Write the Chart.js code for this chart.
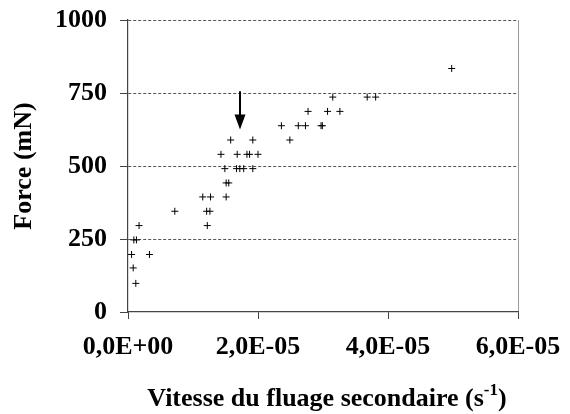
<!DOCTYPE html>
<html>
<head>
<meta charset="utf-8">
<script src="https://cdn.jsdelivr.net/npm/chart.js@4/dist/chart.umd.min.js"></script>
<style>
  html, body { margin: 0; padding: 0; background: #fff; }
  #wrap { width: 570px; height: 414px; position: relative; }
</style>
</head>
<body>
<div id="wrap"><canvas id="c"></canvas></div>
<script>
// Secondary creep rate (s^-1) and applied force (mN) for each test
const creepRate = [
  1.2e-6, 0.8e-6, 0.55e-6, 3.3e-6, 0.9e-6, 1.3e-6, 1.7e-6, 12.2e-6,
  7.2e-6, 12.1e-6, 12.6e-6, 11.5e-6, 12.7e-6, 15.1e-6, 15.1e-6, 15.5e-6,
  14.9e-6, 16.7e-6, 17.2e-6, 17.8e-6, 19.2e-6, 14.3e-6, 16.8e-6, 18.3e-6,
  18.7e-6, 20.0e-6, 15.8e-6, 19.2e-6, 24.9e-6, 23.6e-6, 26.2e-6, 27.3e-6,
  29.7e-6, 29.9e-6, 27.7e-6, 30.7e-6, 32.6e-6, 31.5e-6, 36.8e-6, 38.1e-6,
  49.8e-6
];
const force = [
  98, 151, 197, 197, 247, 247, 296, 296,
  345, 345, 345, 394, 394, 394, 442, 442,
  491, 491, 491, 491, 491, 540, 540, 540,
  540, 540, 589, 589, 589, 638, 638, 638,
  638, 638, 687, 687, 687, 736, 736, 736,
  834
];

// Tick values of both axes
const xTicks = [0, 2e-5, 4e-5, 6e-5];
const yTicks = [0, 250, 500, 750, 1000];

// Arrow pointing at the transition point
const arrowRate = 1.72e-5;
const arrowFrom = 756;
const arrowTo = 625;

const FONT = "'Liberation Serif', 'Times New Roman', serif";

function sciLabel(v) {
  const [m, e] = Number(v).toExponential(1).split('e');
  const n = parseInt(e, 10);
  const sign = n < 0 ? '-' : '+';
  return m.replace('.', ',') + 'E' + sign + String(Math.abs(n)).padStart(2, '0');
}

const points = creepRate.map((x, i) => ({ x: x, y: force[i] }));

// Arrow and x-axis title (with superscript exponent)
const extras = {
  id: 'extras',
  afterDatasetsDraw(chart) {
    const { ctx, scales } = chart;
    const xs = scales.x, ys = scales.y;
    const ax = Math.round(xs.getPixelForValue(arrowRate));
    const y0 = ys.getPixelForValue(arrowFrom);
    const y1 = ys.getPixelForValue(arrowTo);
    ctx.save();
    ctx.strokeStyle = '#000';
    ctx.fillStyle = '#000';
    ctx.lineWidth = 2;
    ctx.beginPath();
    ctx.moveTo(ax, y0);
    ctx.lineTo(ax, y1 - 12);
    ctx.stroke();
    ctx.beginPath();
    ctx.moveTo(ax - 5.5, y1 - 15);
    ctx.lineTo(ax + 5.5, y1 - 15);
    ctx.lineTo(ax, y1);
    ctx.closePath();
    ctx.fill();
    ctx.restore();
  },
  afterDraw(chart) {
    const { ctx, chartArea } = chart;
    const main = 'Vitesse du fluage secondaire (s';
    const sup = '-1';
    const tail = ')';
    ctx.save();
    ctx.fillStyle = '#000';
    ctx.textBaseline = 'alphabetic';
    ctx.textAlign = 'left';
    const big = 'bold 26px ' + FONT;
    const small = 'bold 17px ' + FONT;
    ctx.font = big;
    const wMain = ctx.measureText(main).width;
    const wTail = ctx.measureText(tail).width;
    ctx.font = small;
    const wSup = ctx.measureText(sup).width;
    const total = wMain + wSup + wTail;
    const cx = (chartArea.left + chartArea.right) / 2 + 4;
    let x = cx - total / 2;
    const base = 406;
    ctx.font = big;
    ctx.fillText(main, x, base);
    x += wMain;
    ctx.font = small;
    ctx.fillText(sup, x, base - 11);
    x += wSup;
    ctx.font = big;
    ctx.fillText(tail, x, base);
    ctx.restore();
  }
};

new Chart(document.getElementById('c'), {
  type: 'scatter',
  data: {
    datasets: [{
      data: points,
      pointStyle: 'cross',
      pointRadius: 3.5,
      pointHoverRadius: 3.5,
      borderColor: '#000',
      backgroundColor: '#000',
      pointBorderWidth: 1
    }]
  },
  options: {
    responsive: true,
    maintainAspectRatio: false,
    animation: false,
    events: [],
    layout: { padding: { top: 20, right: 52, left: 0, bottom: 0 } },
    plugins: { legend: { display: false }, tooltip: { enabled: false } },
    scales: {
      x: {
        type: 'linear',
        min: 0,
        max: 6e-5,
        afterBuildTicks(scale) { scale.ticks = xTicks.map(v => ({ value: v })); },
        afterFit(scale) {
          scale.height = 102;
          scale.paddingLeft = 0;
          scale.paddingRight = 0;
        },
        ticks: {
          callback: v => sciLabel(v),
          font: { family: FONT, size: 26, weight: 'bold' },
          color: '#000',
          padding: 13,
          maxRotation: 0,
          autoSkip: false
        },
        grid: {
          drawOnChartArea: true,
          color: c => (c.index === xTicks.length - 1 ? '#9a9a9a' : 'rgba(0,0,0,0)'),
          tickColor: '#444',
          tickLength: 7,
          lineWidth: 1
        },
        border: { display: true, color: '#444', width: 1.2 }
      },
      y: {
        type: 'linear',
        min: 0,
        max: 1000,
        afterBuildTicks(scale) { scale.ticks = yTicks.map(v => ({ value: v })); },
        afterFit(scale) {
          scale.width = 128;
          scale.paddingTop = 0;
          scale.paddingBottom = 0;
        },
        ticks: {
          callback: v => String(v),
          font: { family: FONT, size: 26, weight: 'bold' },
          color: '#000',
          padding: 13
        },
        title: {
          display: true,
          text: 'Force (mN)',
          font: { family: FONT, size: 26, weight: 'bold' },
          color: '#000',
          padding: { top: 9, bottom: 0 }
        },
        grid: {
          color: c => (c.tick && c.tick.value === 0 ? 'rgba(0,0,0,0)' : '#555'),
          tickColor: '#444',
          tickLength: 8,
          lineWidth: 1
        },
        border: { display: true, color: '#444', width: 1.2, dash: [3, 2] }
      }
    }
  },
  plugins: [extras]
});
</script>
</body>
</html>
